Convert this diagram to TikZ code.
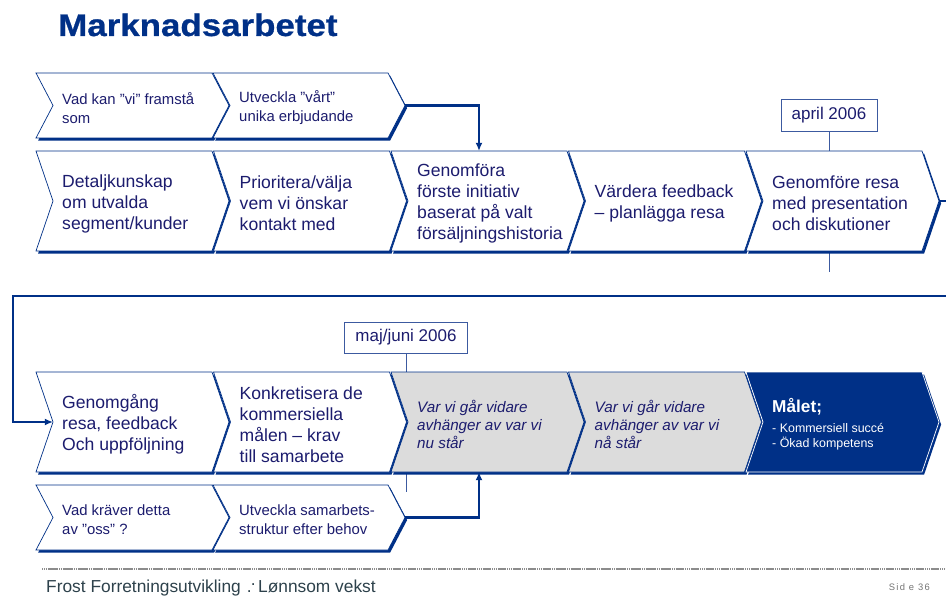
\documentclass[tikz,border=0pt]{standalone}
\usepackage{fontspec}
\setmainfont{Liberation Sans}
\newfontfamily\titlefont{Liberation Sans}[FakeStretch=1.12,FakeBold=0.8]
\usetikzlibrary{calc,arrows.meta,shadows}
\definecolor{navy}{RGB}{0,48,135}
\definecolor{ink}{RGB}{28,28,110}
\definecolor{lineblue}{RGB}{60,90,160}
\definecolor{stepgrey}{RGB}{220,220,220}
\definecolor{footgrey}{RGB}{45,65,75}
\tikzset{%
	% Style of the step outline
	StepShape/.style={draw=navy,fill=white,line width=0.6pt,
		drop shadow={shadow xshift=1.8pt,shadow yshift=-2.2pt,opacity=1,fill=navy}},
	StepGrey/.style={StepShape,fill=stepgrey},
	StepGoal/.style={StepShape,fill=navy,draw=white},
	% Style of the step texts
	StepText/.style={anchor=west,inner sep=0,align=left,text=ink,font=\fontsize{15}{17.9}\selectfont},
	SmallText/.style={StepText,font=\fontsize{12.7}{16.2}\selectfont},
	GreyText/.style={StepText,font=\fontsize{13}{15.3}\selectfont\itshape},
	GoalText/.style={StepText,text=white,font=\fontsize{10.6}{12.8}\selectfont},
	% Style of the date boxes
	DateBox/.style={draw=lineblue,fill=white,line width=0.6pt,text=ink,inner sep=0,font=\fontsize{14.5}{17}\selectfont},
	DateLine/.style={draw=lineblue,line width=0.6pt},
	% Style of the branch
	Connection/.style={draw=navy,line width=2pt,-{Latex[length=7pt,width=6pt]}},
	FootLine/.style={draw=black!45,line width=0.9pt,dash pattern=on 1.2pt off 0.4pt},
}
% one step of the process: name, x, y, width, height
\newcommand{\Step}[6][StepShape]{%
	\draw[#1] (#3,#4) -- ++(#5,0) -- ++(17,#6/2) -- ++(-17,#6/2) -- ++(-#5,0) -- ++(17,-#6/2) -- cycle;
	\coordinate (#2-n) at (#3+#5/2,#4);
	\coordinate (#2-s) at (#3+#5/2,#4+#6);
	\coordinate (#2-tip) at (#3+#5+17,#4+#6/2);
	\coordinate (#2-notch) at (#3+17,#4+#6/2);
	\coordinate (#2-text) at (#3+26,#4+#6/2+2.5);
}

\begin{document}
\begin{tikzpicture}[x=0.03cm,y=-0.03cm] % STYLES
\useasboundingbox (0,0) rectangle (946,596);
\clip (0,0) rectangle (946,596);

\node[anchor=base west,inner sep=0,text=navy,font=\titlefont\bfseries\fontsize{26.6}{30}\selectfont] (title) at (58,36) {Marknadsarbetet};

%~~~~~~~~~~~~~~~~~~~~~~~~~~~~~~~~~~~~~~~~~~~~~~~~~~
% Set Dates
%~~~~~~~~~~~~~~~~~~~~~~~~~~~~~~~~~~~~~~~~~~~~~~~~~~
\node[DateBox,minimum width=2.88cm,minimum height=0.96cm] (april) at (829,115) {april 2006};
\coordinate (aprilEnd) at (829,272);
\draw[DateLine] (april) -- (aprilEnd);

\node[DateBox,minimum width=3.69cm,minimum height=0.93cm] (maj) at (406,337.5) {maj/juni 2006};
\coordinate (majEnd) at (406,492);
\draw[DateLine] (maj) -- (majEnd);

%~~~~~~~~~~~~~~~~~~~~~~~~~~~~~~~~~~~~~~~~~~~~~~~~~~
% Set Steps
%~~~~~~~~~~~~~~~~~~~~~~~~~~~~~~~~~~~~~~~~~~~~~~~~~~
\Step{s1}{36}{73}{176}{65}
\node[SmallText] (s1t) at (s1-text) {Vad kan ”vi” framstå\\som};

\Step{s2}{213}{73}{175}{65}
\node[SmallText] (s2t) at (s2-text) {Utveckla ”vårt”\\unika erbjudande};

\Step{c1}{36}{151}{176}{100}
\node[StepText] (c1t) at (c1-text) {Detaljkunskap\\om utvalda\\segment/kunder};

\Step{c2}{213.5}{151}{176}{100}
\node[StepText] (c2t) at (c2-text) {Prioritera/välja\\vem vi önskar\\kontakt med};

\Step{c3}{391}{151}{176}{100}
\node[StepText] (c3t) at (c3-text) {Genomföra\\förste initiativ\\baserat på valt\\försäljningshistoria};

\Step{c4}{568.5}{151}{176}{100}
\node[StepText] (c4t) at (c4-text) {Värdera feedback\\– planlägga resa};

\Step{c5}{746}{151}{176}{100}
\node[StepText] (c5t) at (c5-text) {Genomföre resa\\med presentation\\och diskutioner};

\Step{d1}{36}{372}{176}{100}
\node[StepText] (d1t) at (d1-text) {Genomgång\\resa, feedback\\Och uppföljning};

\Step{d2}{213.5}{372}{176}{100}
\node[StepText] (d2t) at (d2-text) {Konkretisera de\\kommersiella\\målen – krav\\till samarbete};

\Step[StepGrey]{d3}{391}{372}{176}{100}
\node[GreyText] (d3t) at (d3-text) {Var vi går vidare\\avhänger av var vi\\nu står};

\Step[StepGrey]{d4}{568.5}{372}{176}{100}
\node[GreyText] (d4t) at (d4-text) {Var vi går vidare\\avhänger av var vi\\nå står};

\Step[StepGoal]{d5}{746}{372}{176}{100}
\node[GoalText] (d5t) at (d5-text) {{\bfseries\fontsize{14.7}{17}\selectfont Målet;}\\[4pt]- Kommersiell succé\\- Ökad kompetens};

\Step{t1}{36}{485}{176}{65}
\node[SmallText] (t1t) at (t1-text) {Vad kräver detta\\av ”oss” ?};

\Step{t2}{213}{485}{175}{65}
\node[SmallText] (t2t) at (t2-text) {Utveckla samarbets-\\struktur efter behov};

%~~~~~~~~~~~~~~~~~~~~~~~~~~~~~~~~~~~~~~~~~~~~~~~~~~
% Set Branches
%~~~~~~~~~~~~~~~~~~~~~~~~~~~~~~~~~~~~~~~~~~~~~~~~~~
%Branch from s2 down to c3
\draw[Connection] (s2-tip) -| (c3-n);

%Branch from c5 round to d1
\coordinate (loopE) at (960,296);
\coordinate (loopW) at (13,296);
\draw[Connection] (c5-tip) -| (loopE) -- (loopW) |- (d1-notch);

%Branch from t2 up to d3
\draw[Connection] (t2-tip) -| (d3-s);

%~~~~~~~~~~~~~~~~~~~~~~~~~~~~~~~~~~~~~~~~~~~~~~~~~~
% Footer
%~~~~~~~~~~~~~~~~~~~~~~~~~~~~~~~~~~~~~~~~~~~~~~~~~~
\coordinate (footW) at (42,569);
\coordinate (footE) at (946,569);
\draw[FootLine] (footW) -- (footE);
\node[anchor=base west,inner sep=0,text=footgrey,font=\fontsize{14.8}{17}\selectfont] (foot) at (46,592) {Frost Forretningsutvikling \kern1pt.\kern-0.6pt\raisebox{0.38em}{.}\kern2pt Lønnsom vekst};
\node[anchor=base east,inner sep=0,text=black!55,font=\fontsize{8}{9}\selectfont\addfontfeatures{LetterSpace=14}] (page) at (930,590) {Sid e 36};

\end{tikzpicture}
\end{document}
